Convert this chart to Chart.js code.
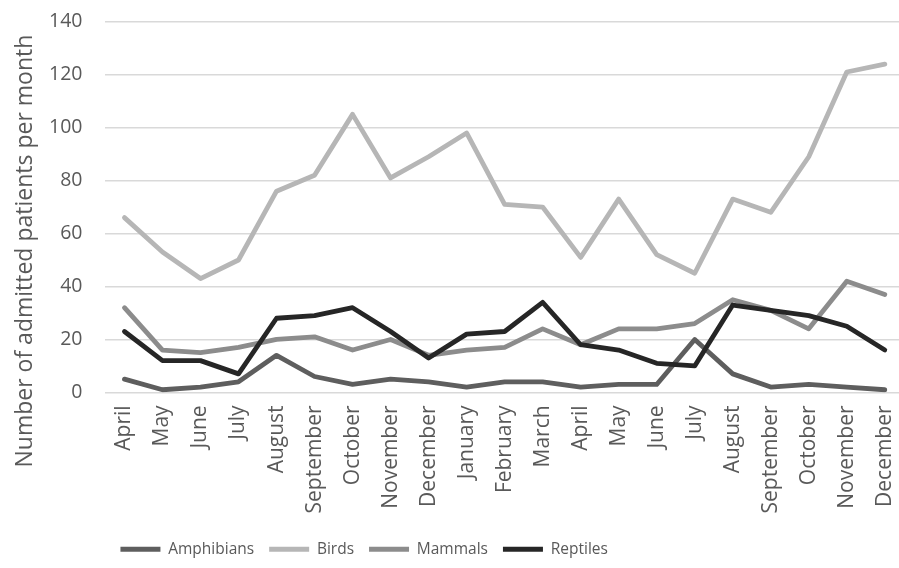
<!DOCTYPE html>
<html>
<head>
<meta charset="utf-8">
<script src="https://cdn.jsdelivr.net/npm/chart.js@4/dist/chart.umd.min.js"></script>
<style>
  html, body { margin: 0; padding: 0; background: #ffffff; overflow: hidden; }
  #wrap { width: 899px; height: 568px; overflow: hidden; }
  canvas { display: block; margin-top: -13px; }
</style>
</head>
<body>
<div id="wrap"><canvas id="chart" width="923" height="581"></canvas></div>
<script>
// Monthly admissions by animal group, April of one year to December of the next
const months = [
  'April', 'May', 'June', 'July', 'August', 'September', 'October', 'November', 'December',
  'January', 'February', 'March',
  'April', 'May', 'June', 'July', 'August', 'September', 'October', 'November', 'December'
];
const amphibians = [5, 1, 2, 4, 14, 6, 3, 5, 4, 2, 4, 4, 2, 3, 3, 20, 7, 2, 3, 2, 1];
const birds      = [66, 53, 43, 50, 76, 82, 105, 81, 89, 98, 71, 70, 51, 73, 52, 45, 73, 68, 89, 121, 124];
const mammals    = [32, 16, 15, 17, 20, 21, 16, 20, 14, 16, 17, 24, 18, 24, 24, 26, 35, 31, 24, 42, 37];
const reptiles   = [23, 12, 12, 7, 28, 29, 32, 23, 13, 22, 23, 34, 18, 16, 11, 10, 33, 31, 29, 25, 16];
const yTicks     = [0, 20, 40, 60, 80, 100, 120, 140];
const yTitle     = 'Number of admitted patients per month';

const textColor = '#595959';
const font = 'Open Sans';

function series(label, data, color, order) {
  return {
    label, data, order,
    borderColor: color,
    backgroundColor: color,
    borderWidth: 4.8,
    borderCapStyle: 'round',
    borderJoinStyle: 'round',
    pointRadius: 0,
    pointHoverRadius: 0,
    tension: 0,
    fill: false
  };
}

// Vertical axis title, centred over the plot plus the month-label band
const sideTitle = {
  id: 'sideTitle',
  afterDraw(chart) {
    const { ctx, chartArea, scales } = chart;
    const cy = (chartArea.top + scales.x.bottom) / 2 - 23;
    ctx.save();
    ctx.translate(25, cy);
    ctx.rotate(-Math.PI / 2);
    ctx.font = `23px "${font}"`;
    ctx.fillStyle = textColor;
    ctx.textAlign = 'center';
    ctx.textBaseline = 'middle';
    ctx.fillText(yTitle, 0, 0);
    ctx.restore();
  }
};

new Chart(document.getElementById('chart'), {
  type: 'line',
  data: {
    labels: months,
    datasets: [
      series('Amphibians', amphibians, '#5e5e5e', 4),
      series('Birds', birds, '#b6b6b6', 3),
      series('Mammals', mammals, '#8c8c8c', 2),
      series('Reptiles', reptiles, '#262626', 1)
    ]
  },
  plugins: [sideTitle],
  options: {
    responsive: false,
    animation: false,
    events: [],
    layout: { padding: { top: 0, left: 26, right: 0, bottom: 1 } },
    scales: {
      x: {
        offset: true,
        grid: { display: false, drawTicks: false },
        border: { display: false },
        ticks: {
          color: textColor,
          font: { family: font, size: 21 },
          minRotation: 90,
          maxRotation: 90,
          autoSkip: false,
          padding: 13
        }
      },
      y: {
        min: yTicks[0],
        max: yTicks[yTicks.length - 1],
        afterBuildTicks: (axis) => { axis.ticks = yTicks.map(v => ({ value: v })); },
        grid: { color: '#d9d9d9', lineWidth: 1.5, drawTicks: false },
        border: { display: false },
        ticks: {
          color: textColor,
          font: { family: font, size: 19.5 },
          padding: 23
        }
      }
    },
    plugins: {
      tooltip: { enabled: false },
      legend: {
        position: 'bottom',
        align: 'start',
        fullSize: false,
        labels: {
          color: textColor,
          font: { family: font, size: 15.5 },
          usePointStyle: true,
          pointStyleWidth: 40,
          pointStyle: 'line',
          padding: 15,
          sort: (a, b) => a.datasetIndex - b.datasetIndex
        }
      }
    }
  }
});
</script>
</body>
</html>
